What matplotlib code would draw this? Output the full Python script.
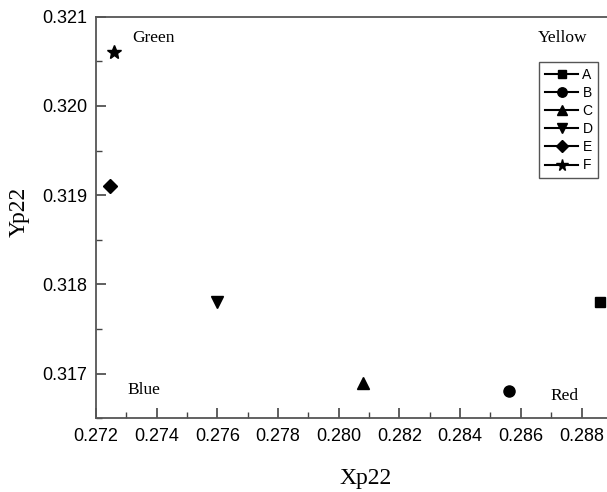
import matplotlib
matplotlib.use("Agg")
import matplotlib.pyplot as plt
from matplotlib.ticker import MultipleLocator, FormatStrFormatter

# data
labels = ["A", "B", "C", "D", "E", "F"]
xp22 = [0.2886, 0.2856, 0.2808, 0.2760, 0.27245, 0.2726]
yp22 = [0.3178, 0.3168, 0.3169, 0.3178, 0.3191, 0.3206]
markers = ["s", "o", "^", "v", "D", "*"]
msizes = [7, 8, 8, 8, 7, 10]

regions = ["Green", "Yellow", "Blue", "Red"]
region_xy = [(0.27319, 0.32076), (0.28657, 0.32076), (0.27305, 0.31682), (0.28697, 0.31675)]

fig = plt.figure(figsize=(6.07, 4.92), dpi=100)
ax = fig.add_axes([0.158, 0.150, 0.850, 0.816])

for lab, x, y, m, s in zip(labels, xp22, yp22, markers, msizes):
	ax.plot([x], [y], linestyle='-', color='black', marker=m, markersize=s, label=lab)

for name, (x, y) in zip(regions, region_xy):
	ax.text(x, y, name, family='Liberation Serif', fontsize=12.5, va='center', ha='left')

ax.set_xlim(0.272, 0.289)
ax.set_ylim(0.3165, 0.321)
ax.xaxis.set_major_locator(MultipleLocator(0.002))
ax.xaxis.set_minor_locator(MultipleLocator(0.001))
ax.yaxis.set_major_locator(MultipleLocator(0.001))
ax.yaxis.set_minor_locator(MultipleLocator(0.0005))
ax.xaxis.set_major_formatter(FormatStrFormatter('%.3f'))
ax.yaxis.set_major_formatter(FormatStrFormatter('%.3f'))
ax.tick_params(which='both', direction='in', top=False, right=False, color='#444444',
			   labelsize=13, labelfontfamily='Liberation Sans')
ax.tick_params(which='major', length=7, width=1.2, pad=7)
ax.tick_params(axis='y', which='major', pad=6)
ax.tick_params(which='minor', length=4, width=1.0)
for sp in ax.spines.values():
	sp.set_color('#555555')
	sp.set_linewidth(1.3)

ax.set_xlabel('Xp22', family='Liberation Serif', fontsize=17)
ax.set_ylabel('Yp22', family='Liberation Serif', fontsize=17)
ax.xaxis.set_label_coords(0.522, -0.125)
ax.yaxis.set_label_coords(-0.128, 0.513)

leg = ax.legend(loc='upper right', bbox_to_anchor=(598/607, 1-62/492), bbox_transform=fig.transFigure,
				borderaxespad=0, fancybox=False, edgecolor='#555555', framealpha=1,
				prop={'family': 'Liberation Sans', 'size': 10}, handlelength=2.4,
				labelspacing=0.3, handletextpad=0.3, borderpad=0.4, markerscale=0.85)
leg.get_frame().set_linewidth(1.0)

fig.savefig('out.png', dpi=100)
